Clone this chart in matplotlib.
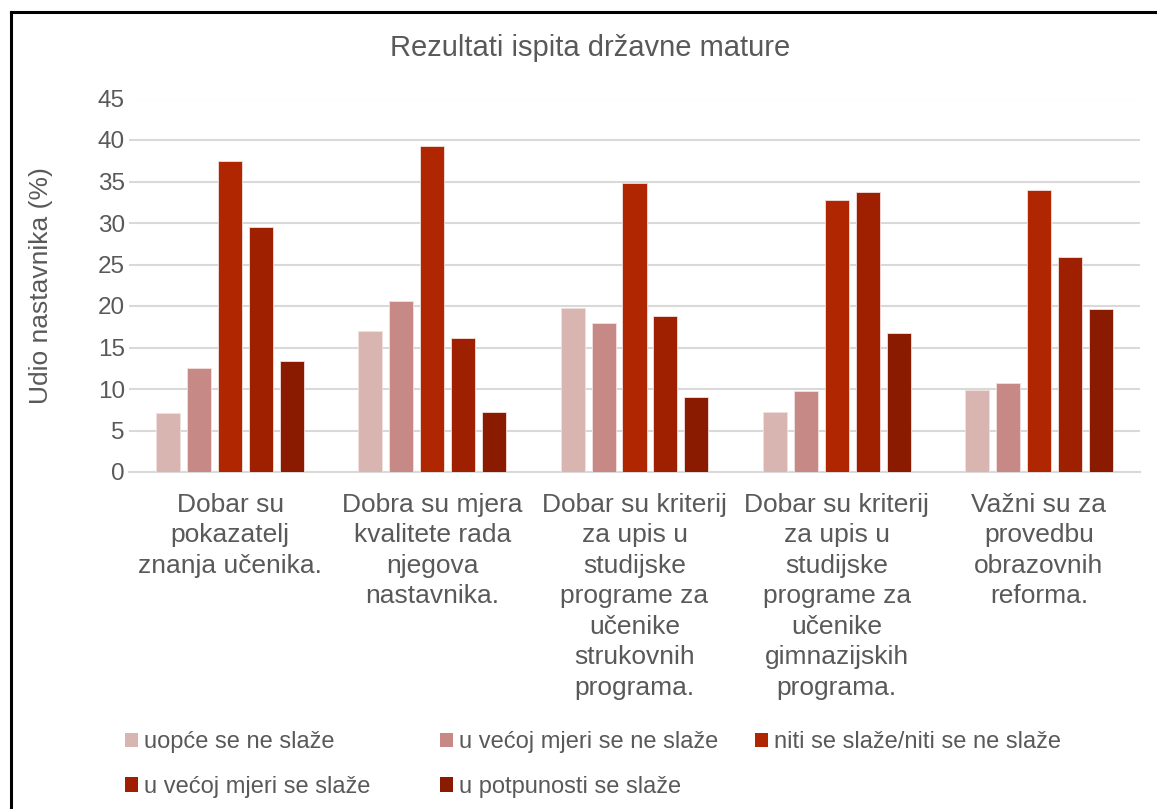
import matplotlib
matplotlib.use("Agg")
import matplotlib.pyplot as plt
from matplotlib.lines import Line2D
from matplotlib.patches import Patch
import numpy as np

plt.rcParams['font.family'] = ['Liberation Sans', 'DejaVu Sans']

categories = [
    "Dobar su\npokazatelj\nznanja učenika.",
    "Dobra su mjera\nkvalitete rada\nnjegova\nnastavnika.",
    "Dobar su kriterij\nza upis u\nstudijske\nprograme za\nučenike\nstrukovnih\nprograma.",
    "Dobar su kriterij\nza upis u\nstudijske\nprograme za\nučenike\ngimnazijskih\nprograma.",
    "Važni su za\nprovedbu\nobrazovnih\nreforma.",
]
series_names = [
    "uopće se ne slaže",
    "u većoj mjeri se ne slaže",
    "niti se slaže/niti se ne slaže",
    "u većoj mjeri se slaže",
    "u potpunosti se slaže",
]
uopce = [7.1, 17.0, 19.7, 7.2, 9.9]
vecoj_ne = [12.5, 20.6, 17.9, 9.8, 10.7]
niti = [37.5, 39.3, 34.8, 32.8, 34.0]
vecoj_da = [29.5, 16.1, 18.8, 33.7, 25.9]
potpuno = [13.4, 7.2, 9.0, 16.8, 19.6]
series = [uopce, vecoj_ne, niti, vecoj_da, potpuno]
colors = ["#D9B5B2", "#C78985", "#B02600", "#9E2000", "#8A1A00"]

W, H = 1157, 809
fig = plt.figure(figsize=(W / 100, H / 100), dpi=100)
ax = fig.add_axes([129 / W, 1 - 472 / H, (1140 - 129) / W, (472 - 98.5) / H])

x = np.arange(len(categories))
step = 0.153
bw = 0.119
bars = []
for i, (vals, c) in enumerate(zip(series, colors)):
    b = ax.bar(x + (i - 2) * step, vals, width=bw, color=c, edgecolor="#F2E0DE",
               linewidth=0.6, zorder=3, label=series_names[i])
    bars.append(b)

ax.set_xlim(-0.5, len(categories) - 0.5)
ax.set_ylim(0, 45)
ax.set_yticks(np.arange(0, 46, 5))
ax.yaxis.grid(True, color="#D9D9D9", linewidth=1.5, zorder=0)
ax.set_axisbelow(True)
for s in ["top", "right", "left"]:
    ax.spines[s].set_visible(False)
ax.spines["bottom"].set_color("#D9D9D9")
ax.spines["bottom"].set_linewidth(1.5)
ax.tick_params(axis="both", length=0, colors="#595959", labelsize=17.5)
ax.tick_params(axis="y", pad=3)
ax.set_xticks(x)
ax.set_xticklabels(categories, fontsize=19, color="#595959", linespacing=1.34)
ax.tick_params(axis="x", pad=15)
ax.set_ylabel("Udio nastavnika (%)", fontsize=19, color="#595959", labelpad=32)

fig.text(590 / W, 1 - 48 / H, "Rezultati ispita državne mature", ha="center",
         va="center", fontsize=21, color="#595959")

handles = [Patch(facecolor=c, edgecolor="none") for c in colors]
legend_cols = [([0, 3], 125), ([1, 4], 440), ([2], 755)]
for idxs, xpix in legend_cols:
    fig.legend([handles[i] for i in idxs], [series_names[i] for i in idxs],
               loc="upper left", ncol=1,
               bbox_to_anchor=(xpix / W, 1 - 731 / H), frameon=False,
               fontsize=17, labelcolor="#595959", handlelength=0.55,
               handleheight=0.55, handletextpad=0.25, borderpad=0,
               borderaxespad=0, labelspacing=0.97)

# outer border
fig.add_artist(Line2D([10.5 / W, 10.5 / W], [-0.01, 1 - 11.5 / H], color="black", lw=2.2))
fig.add_artist(Line2D([10.5 / W, 1.01], [1 - 11.5 / H, 1 - 11.5 / H], color="black", lw=2.2))

fig.savefig("out.png", dpi=100, facecolor="white")
